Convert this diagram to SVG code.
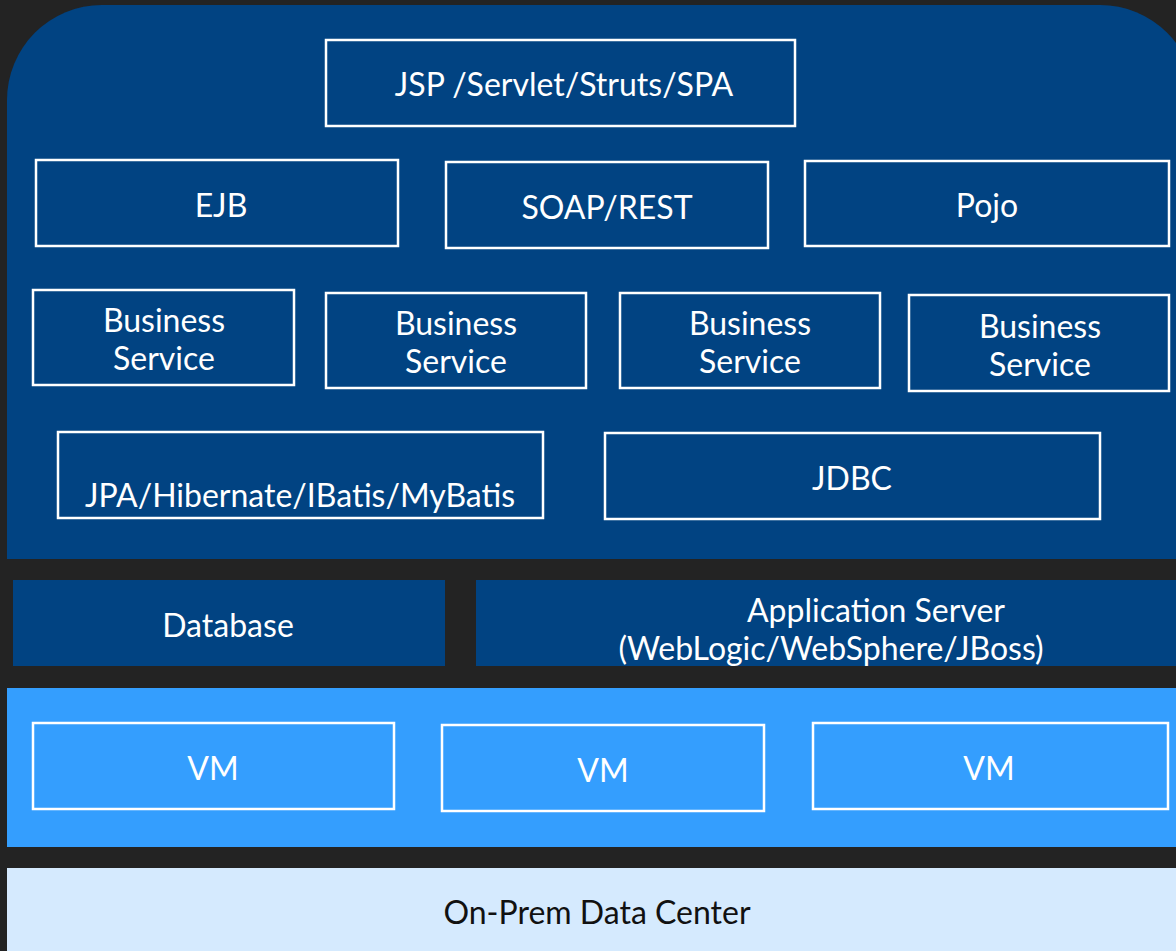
<svg xmlns="http://www.w3.org/2000/svg" width="1176" height="951" viewBox="0 0 1176 951">
<style>
.box{fill:none;stroke:#ffffff;stroke-width:2.5}
.t{font-family:Lato,"Open Sans","Liberation Sans",sans-serif;font-size:32px;fill:#ffffff;text-anchor:middle}
.dk{fill:#111111;font-size:32px}
</style>
<rect x="0" y="0" width="1176" height="951" fill="#232323"/>
<g id="platform">
<path d="M7,559 L7,100 A95,95 0 0 1 102,5 L1100,5 A95,95 0 0 1 1195,100 L1195,559 Z" fill="#014382"/>
</g>
<g id="jsp"><rect class="box" x="326" y="40" width="469" height="86"/><text class="t" x="564" y="96">JSP /Servlet/Struts/SPA</text></g>
<g id="ejb"><rect class="box" x="36" y="160" width="362" height="86"/><text class="t" x="221" y="217">EJB</text></g>
<g id="soap"><rect class="box" x="446" y="162" width="322" height="86"/><text class="t" x="607" y="219">SOAP/REST</text></g>
<g id="pojo"><rect class="box" x="805" y="161" width="364" height="85"/><text class="t" x="987" y="217">Pojo</text></g>
<g id="bs1"><rect class="box" x="33" y="290" width="261" height="95"/><text class="t" x="164" y="332">Business</text><text class="t" x="164" y="370">Service</text></g>
<g id="bs2"><rect class="box" x="326" y="293" width="260" height="95"/><text class="t" x="456" y="335">Business</text><text class="t" x="456" y="373">Service</text></g>
<g id="bs3"><rect class="box" x="620" y="293" width="260" height="95"/><text class="t" x="750" y="335">Business</text><text class="t" x="750" y="373">Service</text></g>
<g id="bs4"><rect class="box" x="909" y="295" width="260" height="96"/><text class="t" x="1040" y="338">Business</text><text class="t" x="1040" y="376">Service</text></g>
<g id="jpa"><rect class="box" x="58" y="432" width="485" height="86"/><text class="t" x="300" y="507">JPA/Hibernate/IBatis/MyBatis</text></g>
<g id="jdbc"><rect class="box" x="605" y="433" width="495" height="86"/><text class="t" x="852" y="490">JDBC</text></g>
<g id="database"><rect x="13" y="580" width="432" height="86" fill="#014382"/><text class="t" x="228" y="637">Database</text></g>
<g id="appserver"><rect x="476" y="580" width="710" height="86" fill="#014382"/><text class="t" x="876" y="622">Application Server</text><text class="t" x="831" y="660">(WebLogic/WebSphere/JBoss)</text></g>
<g id="vmlayer"><rect x="7" y="688" width="1169" height="159" fill="#349efe"/></g>
<g id="vm1"><rect class="box" x="33" y="723" width="361" height="86"/><text class="t" x="213" y="780">VM</text></g>
<g id="vm2"><rect class="box" x="442" y="725" width="322" height="86"/><text class="t" x="603" y="782">VM</text></g>
<g id="vm3"><rect class="box" x="813" y="723" width="355" height="86"/><text class="t" x="989" y="780">VM</text></g>
<g id="datacenter"><rect x="7" y="868" width="1169" height="83" fill="#d5eafe"/><text class="t dk" x="597" y="924">On-Prem Data Center</text></g>
<g id="connectors"></g>
</svg>
